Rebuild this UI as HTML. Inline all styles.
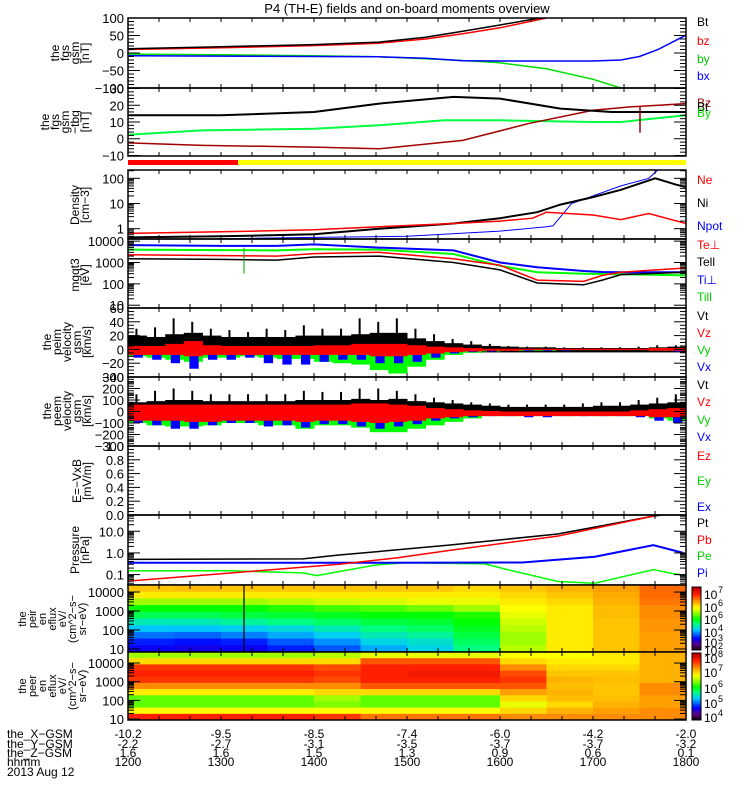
<!DOCTYPE html>
<html><head><meta charset="utf-8"><style>
html,body{margin:0;padding:0;background:#fff;}
svg{display:block;font-family:"Liberation Sans",sans-serif;}
</style></head><body>
<svg id="chart" width="750" height="800" viewBox="0 0 750 800" xmlns="http://www.w3.org/2000/svg">
<text x="407" y="13" font-size="13" text-anchor="middle">P4 (TH-E) fields and on-board moments overview</text>
<g id="g"></g>
</svg>
<script>
// ---- data ----
const bgsmT  = [12,13,14,14.7,15.2,15.6,16,16.43,16.8];
const bgsmBt = [12,18,24,31,45,62,80,100,130];
const bgsmBzT= [12,13,14,14.7,15.2,15.6,16,16.5,16.8];
const bgsmBz = [10,15,21,28,40,55,72,100,125];
const bgsmBxT= [12,13,14,14.7,15.2,15.6,16,17,17.3,17.5,17.7,18];
const bgsmBx = [-8,-9,-10,-11,-15,-22,-23,-23,-20,-10,10,51];
const bgsmByT= [12,13,14,14.7,15.5,16,16.5,17,17.3,17.5];
const bgsmBy = [-3,-5,-8,-11,-20,-28,-45,-75,-100,-130];

const btbgT  = [12,13,14,14.7,15.5,16,16.65,17.2,18];
const btbgBt = [14,14,16,21,25,24,18,16,16];
const btbgByT= [12,12.8,14,14.7,15.4,16,17,17.3,18];
const btbgBy = [2.4,5,6,8,11,11,10,10,14];
const btbgBzT= [12,12.8,14,14.7,15.6,16.3,17,17.4,18];
const btbgBz = [-2.5,-4,-5,-6,-1,9,17,19,21];

const denT   = [12,13,14,14.7,15.5,16,16.4,16.65,17,17.3,17.67,17.9,18];
const denNi  = [0.45,0.5,0.6,1.0,1.6,2.6,4.5,9,18,35,100,55,45];
const denNeT = [12,13,14,14.7,15.5,16,16.35,16.5,17,17.3,17.6,18];
const denNe  = [0.65,0.75,0.9,1.2,1.6,2.0,2.6,4.5,3.5,2.3,4,1.6];
const denNpT = [12,13,14,15,16,16.5,16.57,16.77,17.3,17.6,17.7];
const denNp  = [0.3,0.4,0.45,0.5,0.8,1.2,1.3,10,50,100,220];

const tmpT   = [12,13,13.6,14,14.7,15.5,16,16.4,16.9,17.1,17.3,18];
const tmpTip = [6500,6000,6000,7000,5000,3700,1000,600,400,360,350,350];
const tmpTil = [4000,3800,3700,4200,4000,2500,700,350,300,290,280,250];
const tmpTep = [2300,2100,2000,2600,3000,1500,750,150,130,250,350,550];
const tmpTel = [1500,1400,1300,1800,2000,1000,450,110,90,150,270,350];

// velocity envelopes, 30 bins of 20 min from 12:00
const v1Typ  = [20,18,22,24,20,18,18,18,18,20,20,20,22,24,24,16,12,9,7,5,4,3,3,2,2,2,2,2,3,4];
const v1Peak = [30,32,45,40,30,28,25,30,28,35,30,30,45,40,45,30,22,15,12,8,5,4,4,3,3,3,3,4,6,6];
const v1GMin = [-10,-12,-15,-18,-12,-12,-10,-12,-14,-14,-18,-20,-22,-30,-35,-25,-15,-8,-5,-3,-2,-2,-2,-1,-1,-1,-1,-1,-2,-2];
const v1BMin = [-12,-15,-20,-28,-15,-15,-12,-20,-22,-22,-18,-15,-15,-20,-20,-18,-12,-6,-4,-3,-2,-2,-2,-2,-1,-1,-1,-1,-2,-3];
const v1RMin = [-8,-8,-8,-10,-8,-8,-8,-8,-8,-8,-8,-8,-8,-10,-10,-8,-6,-4,-3,-2,-2,-1,-1,-1,-1,-1,-1,-1,-2,-2];
const v1RMax = [5,5,8,12,6,5,5,5,5,5,6,6,8,8,8,6,4,3,2,1,1,1,1,1,1,1,1,1,2,2];

const v2Typ  = [80,90,100,100,90,90,90,90,90,100,100,100,110,100,110,90,80,70,60,50,40,40,40,40,40,50,50,60,70,80];
const v2Peak = [150,180,200,180,150,150,150,150,150,180,170,170,200,200,180,150,120,100,80,70,60,60,60,60,70,80,80,100,120,150];
const v2GMin = [-100,-120,-130,-130,-120,-100,-100,-120,-120,-150,-120,-120,-140,-180,-180,-150,-120,-90,-60,-40,-40,-40,-40,-40,-40,-40,-40,-40,-60,-80];
const v2BMin = [-100,-120,-150,-150,-120,-100,-100,-130,-120,-140,-110,-110,-130,-150,-130,-110,-80,-60,-50,-40,-40,-50,-50,-40,-40,-40,-40,-50,-80,-100];
const v2RMin = [-80,-80,-80,-90,-90,-80,-80,-80,-80,-90,-80,-80,-90,-100,-90,-80,-60,-50,-40,-40,-40,-40,-40,-40,-40,-40,-40,-40,-50,-50];
const v2RMax = [60,60,60,60,60,60,60,60,60,60,60,60,70,70,60,50,30,20,10,5,0,0,0,0,0,0,0,10,20,30];

const prT    = [12,13.88,14.27,14.9,15.45,16.62,17.65,18];
const prPt   = [0.5,0.53,0.8,1.4,2.3,7.5,50,80];
const prPbT  = [12,13.22,14.27,14.9,15.45,16.62,17.65];
const prPb   = [0.05,0.13,0.3,0.6,1.3,6,50];
const prPiT  = [12,14,16.24,17.02,17.65,17.97];
const prPi   = [0.35,0.35,0.36,0.67,2.3,1.0];
const prPeT  = [12,13.1,13.88,14.03,14.67,14.98,15.84,16.08,16.62,17.02,17.65,17.97];
const prPe   = [0.15,0.15,0.12,0.09,0.28,0.35,0.31,0.17,0.048,0.04,0.17,0.09];

// spectrogram color values 0..1 (cols: 30 min bins, rows: high -> low energy)
const ionGrid = [
 [.74,.7,.6,.5,.45,.38,.32,.26,.2,.17],
 [.75,.7,.6,.5,.45,.38,.32,.25,.19,.16],
 [.74,.7,.6,.5,.46,.4,.33,.27,.2,.17],
 [.74,.7,.62,.52,.47,.42,.35,.3,.24,.2],
 [.74,.7,.64,.54,.48,.44,.38,.33,.28,.24],
 [.74,.7,.65,.55,.5,.46,.42,.38,.34,.3],
 [.74,.7,.66,.57,.5,.47,.44,.4,.36,.34],
 [.72,.7,.66,.6,.52,.5,.48,.46,.44,.42],
 [.74,.72,.7,.68,.66,.64,.62,.6,.6,.62],
 [.76,.74,.72,.7,.7,.7,.7,.7,.7,.7],
 [.78,.77,.76,.75,.75,.74,.74,.74,.74,.74],
 [.83,.83,.82,.8,.8,.79,.79,.78,.78,.78]];
const eleGrid = [
 [.6,.72,.88,.9,.88,.8,.7,.56,.56,.68,.9],
 [.6,.72,.88,.9,.88,.8,.7,.56,.56,.68,.9],
 [.6,.72,.88,.9,.88,.8,.7,.56,.56,.68,.9],
 [.6,.72,.88,.9,.88,.8,.7,.56,.56,.68,.9],
 [.62,.72,.86,.88,.86,.8,.72,.6,.58,.68,.88],
 [.66,.85,.9,.9,.9,.85,.72,.56,.56,.68,.82],
 [.66,.85,.9,.92,.9,.85,.72,.56,.56,.68,.82],
 [.66,.85,.9,.92,.9,.85,.72,.56,.56,.68,.82],
 [.68,.72,.8,.86,.88,.85,.78,.72,.66,.72,.8],
 [.68,.7,.72,.74,.76,.75,.76,.75,.72,.76,.8],
 [.7,.7,.72,.74,.75,.74,.74,.75,.76,.78,.8],
 [.76,.76,.76,.76,.76,.8,.8,.78,.78,.8,.8]];

const posX = ['-10.2','-9.5','-8.5','-7.4','-6.0','-4.2','-2.0'];
const posY = ['-2.2','-2.7','-3.1','-3.5','-3.7','-3.7','-3.2'];
const posZ = ['1.6','1.6','1.5','1.3','0.9','0.6','0.1'];
const hhmm = ['1200','1300','1400','1500','1600','1700','1800'];

// ---- drawing ----
const NS='http://www.w3.org/2000/svg';
const G=document.getElementById('g');
const X0=128,X1=686;
function xs(h){return X0+(h-12)*(X1-X0)/6;}
function mk(tag,attrs,parent){const e=document.createElementNS(NS,tag);for(const k in attrs)e.setAttribute(k,attrs[k]);(parent||G).appendChild(e);return e;}
function txt(x,y,s,size,fill,anchor,parent){const t=mk('text',{x:x,y:y,'font-size':size||13,fill:fill||'#000','text-anchor':anchor||'start'},parent);t.textContent=s;return t;}
function lin(a,b,y0,y1){return v=>y1-(v-a)/(b-a)*(y1-y0);}
function lg(a,b,y0,y1){return v=>y1-(Math.log10(Math.max(v,1e-9))-a)/(b-a)*(y1-y0);}

function panel(name,y0,y1){
  const g=mk('g',{});
  
  
  const cp=mk('clipPath',{id:'cp'+name},g);mk('rect',{x:X0,y:y0,width:X1-X0,height:y1-y0},cp);
  const inner=mk('g',{'clip-path':'url(#cp'+name+')'},g);
  return {g:g,inner:inner,y0:y0,y1:y1};
}
function frame(p){
  mk('rect',{x:X0,y:p.y0,width:X1-X0,height:p.y1-p.y0,fill:'none',stroke:'#000','stroke-width':1.5},p.g);
  for(let h=12;h<=18.001;h+=1/3){const x=xs(h);
    mk('line',{x1:x,x2:x,y1:p.y0,y2:p.y0+4,stroke:'#000'},p.g);
    mk('line',{x1:x,x2:x,y1:p.y1,y2:p.y1-4,stroke:'#000'},p.g);}
}
function yticks(p,f,majors,labels,minors){
  majors.forEach((v,i)=>{const y=f(v);
    mk('line',{x1:X0,x2:X0+12,y1:y,y2:y,stroke:'#000'},p.g);
    mk('line',{x1:X1,x2:X1-12,y1:y,y2:y,stroke:'#000'},p.g);
    txt(124,y+5,labels[i],13,'#000','end',p.g);});
  (minors||[]).forEach(v=>{const y=f(v);if(y<p.y0||y>p.y1)return;
    mk('line',{x1:X0,x2:X0+6,y1:y,y2:y,stroke:'#000'},p.g);
    mk('line',{x1:X1,x2:X1-6,y1:y,y2:y,stroke:'#000'},p.g);});
}
function logMinors(a,b){const r=[];for(let d=a;d<b;d++)for(let k=2;k<=9;k++)r.push(k*Math.pow(10,d));return r;}
function line(p,ts,vs,f,color,w){
  const pts=ts.map((t,i)=>xs(t).toFixed(1)+','+f(vs[i]).toFixed(1)).join(' ');
  return mk('polyline',{points:pts,fill:'none',stroke:color,'stroke-width':w||1.5},p.inner);
}
function vlabel(lines,xc,yc,size){
  const g=mk('g',{});
  
  
  const n=lines.length;lines.forEach((s,i)=>{const x=xc+(i-(n-1)/2)*10;
    const t=txt(0,0,s,size||12,'#000','middle',g);t.setAttribute('transform','translate('+(x+4)+','+yc+') rotate(-90)');});
}
function legend(items){items.forEach(it=>{const t=txt(697,it[2],it[0],12,it[1]);
  
  });}

// Panel 1
let p=panel('panel-fgs-gsm',18,88);let f=lin(-100,100,18,88);
line(p,bgsmByT,bgsmBy,f,'#00e000');line(p,bgsmBxT,bgsmBx,f,'#0000ff');
line(p,bgsmBzT,bgsmBz,f,'#ff0000');line(p,bgsmT,bgsmBt,f,'#000');
frame(p);yticks(p,f,[100,50,0,-50,-100],['100','50','0','\u221250','\u2212100'],[90,80,70,60,40,30,20,10,-10,-20,-30,-40,-60,-70,-80,-90]);
vlabel(['the','fgs','gsm','[nT]'],70,53);
legend([['Bt','#000',26],['bz','#ff0000',45],['by','#00c000',63],['bx','#0000ff',80]]);

// Panel 2
p=panel('panel-fgs-gsm-tbg',88,156);f=lin(-10.3,30.3,88,156);
line(p,btbgByT,btbgBy,f,'#00ff40',2);line(p,btbgBzT,btbgBz,f,'#a00000');line(p,btbgT,btbgBt,f,'#000',2);
mk('line',{x1:640,x2:640,y1:f(19),y2:f(3.6),stroke:'#a00000','stroke-width':1.5},p.inner);
frame(p);yticks(p,f,[30,20,10,0,-10],['30','20','10','0','\u221210'],[28,26,24,22,18,16,14,12,8,6,4,2,-2,-4,-6,-8]);
vlabel(['the','fgs','gsm','\u2212tbg','[nT]'],65,122);
legend([['Bz','#a00000',107],['Bt','#000',111],['By','#00e000',117]]);

// status bar
mk('rect',{x:X0,y:160,width:238-X0,height:5,fill:'#ff0000',});
mk('rect',{x:238,y:160,width:X1-238,height:5,fill:'#ffff00',});

// Panel 4 density
p=panel('panel-density',170,239);f=lg(-0.41,2.33,170,239);
line(p,denNpT,denNp,f,'#0000ff',1);line(p,denT,denNi,f,'#000',2);line(p,denNeT,denNe,f,'#ff0000');
frame(p);yticks(p,f,[100,10,1],['100','10','1'],logMinors(-1,3));
vlabel(['Density','[cm\u22123]'],80,205);
legend([['Ne','#ff0000',184],['Ni','#000',207],['Npot','#0000ff',230]]);

// Panel 5 temperature
p=panel('panel-temperature',239,308);f=lg(0.87,4.1,239,308);
line(p,tmpT,tmpTil,f,'#00ff00',2);line(p,tmpT,tmpTip,f,'#0000ff',2);
line(p,tmpT,tmpTep,f,'#ff0000',1.5);line(p,tmpT,tmpTel,f,'#000',1.5);
mk('line',{x1:244,x2:244,y1:f(5000),y2:f(300),stroke:'#00a000'},p.inner);
frame(p);yticks(p,f,[10000,1000,100,10],['10000','1000','100','10'],logMinors(1,4));
vlabel(['mgqt3','[eV]'],80,275);
legend([['Te\u22a5','#ff0000',249],['Tell','#000',266],['Ti\u22a5','#0000ff',284],['Till','#00d000',301]]);

function envPanel(p,f,typ,peak,gmin,bmin,rmin,rmax){
  const bw=(X1-X0)/typ.length;
  typ.forEach((v,i)=>{const x=X0+i*bw;
    mk('rect',{x:x,y:f(v),width:bw+0.5,height:f(0)-f(v)+3,fill:'#000'},p.inner);
    mk('rect',{x:x+bw*0.4,y:f(peak[i]),width:2,height:f(0)-f(peak[i]),fill:'#000'},p.inner);});
  gmin.forEach((v,i)=>{mk('rect',{x:X0+i*bw,y:f(0),width:bw+0.5,height:f(v)-f(0),fill:'#00ff00'},p.inner);});
  bmin.forEach((v,i)=>{mk('rect',{x:X0+i*bw+bw*0.3,y:f(0),width:bw*0.5,height:f(v)-f(0),fill:'#0000ff'},p.inner);});
  rmin.forEach((v,i)=>{mk('rect',{x:X0+i*bw,y:f(rmax[i]),width:bw+0.5,height:f(v)-f(rmax[i]),fill:'#ff0000'},p.inner);});
}
// Panel 6
p=panel('panel-peim-velocity',308,377);f=lin(-40,60,308,377);
envPanel(p,f,v1Typ,v1Peak,v1GMin,v1BMin,v1RMin,v1RMax);
frame(p);yticks(p,f,[60,40,20,0,-20,-40],['60','40','20','0','\u221220','\u221240'],[55,50,45,35,30,25,15,10,5,-5,-10,-15,-25,-30,-35]);
vlabel(['the','peim','velocity','gsm','[km/s]'],67,342);
legend([['Vt','#000',320],['Vz','#ff0000',337],['Vy','#00d000',354],['Vx','#0000ff',371]]);

// Panel 7
p=panel('panel-peem-velocity',377,446);f=lin(-300,300,377,446);
envPanel(p,f,v2Typ,v2Peak,v2GMin,v2BMin,v2RMin,v2RMax);
frame(p);yticks(p,f,[300,200,100,0,-100,-200,-300],['300','200','100','0','\u2212100','\u2212200','\u2212300'],[250,150,50,-50,-150,-250,280,260,240,220,180,160,140,120,80,60,40,20,-20,-40,-60,-80,-120,-140,-160,-180,-220,-240,-260,-280]);
vlabel(['the','peem','velocity','gsm','[km/s]'],67,411);
legend([['Vt','#000',389],['Vz','#ff0000',406],['Vy','#00d000',424],['Vx','#0000ff',441]]);

// Panel 8
p=panel('panel-e-field',446,515);f=lin(0,1,446,515);
frame(p);yticks(p,f,[1,0.8,0.6,0.4,0.2,0],['1.0','0.8','0.6','0.4','0.2','0.0'],[0.9,0.7,0.5,0.3,0.1,0.95,0.85,0.75,0.65,0.55,0.45,0.35,0.25,0.15,0.05]);
vlabel(['E=\u2212VxB','[mV/m]'],82,481);
legend([['Ez','#ff0000',460],['Ey','#00d000',485],['Ex','#0000ff',511]]);

// Panel 9 pressure
p=panel('panel-pressure',515,585);f=lg(-1.48,1.75,515,585);
line(p,prPeT,prPe,f,'#00ff00');line(p,prPiT,prPi,f,'#0000ff',2);line(p,prT,prPt,f,'#000');line(p,prPbT,prPb,f,'#ff0000');
frame(p);yticks(p,f,[10,1,0.1],['10.0','1.0','0.1'],logMinors(-2,2));
vlabel(['Pressure','[nPa]'],80,550);
legend([['Pt','#000',527],['Pb','#ff0000',544],['Pe','#00d000',560],['Pi','#0000ff',577]]);

// colormap
const cstops=[[0,[16,0,16]],[.08,[96,0,128]],[.18,[0,0,255]],[.32,[0,200,255]],[.42,[0,255,128]],[.5,[0,255,0]],[.6,[160,255,0]],[.68,[255,255,0]],[.78,[255,160,0]],[.9,[255,32,0]],[1,[192,0,0]]];
function cmap(v){v=Math.max(0,Math.min(1,v));for(let i=1;i<cstops.length;i++){if(v<=cstops[i][0]){const a=cstops[i-1],b=cstops[i],t=(v-a[0])/(b[0]-a[0]);
  return 'rgb('+a[1].map((c,k)=>Math.round(c+(b[1][k]-c)*t)).join(',')+')';}}return 'rgb(192,0,0)';}
function spec(p,grid){
  const nc=grid.length,nr=grid[0].length,cw=(X1-X0)/nc,rh=(p.y1-p.y0)/nr;
  grid.forEach((col,i)=>col.forEach((v,j)=>{
    mk('rect',{x:X0+i*cw,y:p.y0+j*rh,width:cw+0.6,height:rh+0.6,fill:cmap(v)},p.inner);}));
}
// Panel 10 ions
p=panel('panel-ion-spectrogram',585,652);f=lg(0.84,4.37,585,652);
spec(p,ionGrid);
mk('line',{x1:244,x2:244,y1:585,y2:652,stroke:'#000','stroke-width':1.2},p.inner);
frame(p);yticks(p,f,[10000,1000,100,10],['10000','1000','100','10'],logMinors(1,4));
vlabel(['the','peir','en','eflux','eV/','(cm^2\u2212s\u2212','sr\u2212eV)'],52,619,11);
// Panel 11 electrons
p=panel('panel-electron-spectrogram',652,720);f=lg(0.95,4.59,652,720);
spec(p,eleGrid);
frame(p);yticks(p,f,[10000,1000,100,10],['10000','1000','100','10'],logMinors(1,4));
vlabel(['the','peer','en','eflux','eV/','(cm^2\u2212s\u2212','sr\u2212eV)'],52,686,11);

// colorbars
function cbar(name,y0,y1,labels){
  const g=mk('g',{});
  
  
  const n=40;for(let i=0;i<n;i++){mk('rect',{x:692,y:y1-(i+1)*(y1-y0)/n,width:9,height:(y1-y0)/n+0.5,fill:cmap(i/(n-1))},g);}
  mk('rect',{x:692,y:y0,width:9,height:y1-y0,fill:'none',stroke:'#000'},g);
  labels.forEach(l=>{const t=txt(704,l[1],'10',12,'#000','start',g);const s=txt(718,l[1]-6,l[0],9,'#000','start',g);});
}
cbar('ion-colorbar',587,650,[['7',599],['6',612],['6',624],['4',637],['3',647],['2',655]]);
cbar('electron-colorbar',653,720,[['8',663],['7',677],['6',693],['5',708],['4',722]]);

// bottom labels
const rows=[['the_X\u2212GSM',posX,738],['the_Y\u2212GSM',posY,748],['the_Z\u2212GSM',posZ,757],['hhmm',hhmm,766]];
rows.forEach(r=>{const t=txt(7,r[2],r[0],12);
  r[1].forEach((s,i)=>{const tt=txt(xs(12+i),r[2],s,12,'#000','middle');});});
const d=txt(7,776,'2013 Aug 12',12);
</script>
</body></html>
